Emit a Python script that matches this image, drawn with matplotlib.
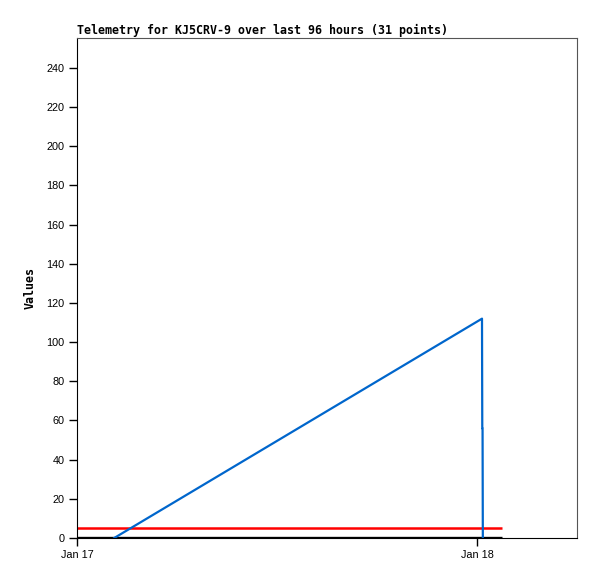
import datetime as dt
import matplotlib
matplotlib.use("Agg")
import matplotlib.pyplot as plt
import matplotlib.dates as mdates

# counter series (blue)
blue_times = [dt.datetime(2024, 1, 17, 2, 14), dt.datetime(2024, 1, 18, 0, 18),
              dt.datetime(2024, 1, 18, 0, 19), dt.datetime(2024, 1, 18, 0, 20),
              dt.datetime(2024, 1, 18, 0, 21)]
blue_values = [0, 112, 56, 56, 0]

# flat series
flat_times = [dt.datetime(2024, 1, 17, 0, 0), dt.datetime(2024, 1, 18, 1, 30)]
red_values = [5, 5]
black_values = [0, 0]

x_start = dt.datetime(2024, 1, 17, 0, 0)
x_end = dt.datetime(2024, 1, 18, 6, 0)
y_ticks = list(range(0, 241, 20))

fig = plt.figure(figsize=(5.97, 5.79), dpi=100)
ax = fig.add_axes([77 / 597, 41 / 579, 500 / 597, 500 / 579])

ax.plot(flat_times, red_values, color="#ff0000", lw=1.8, solid_capstyle="butt")
ax.plot(flat_times, black_values, color="#000000", lw=2.4, solid_capstyle="butt")
ax.plot(blue_times, blue_values, color="#0066cc", lw=1.6)

ax.set_xlim(x_start, x_end)
ax.set_ylim(0, 255.3)
ax.set_yticks(y_ticks)
ax.xaxis.set_major_locator(mdates.DayLocator())
ax.xaxis.set_major_formatter(mdates.DateFormatter("%b %d"))

for lab in ax.get_xticklabels() + ax.get_yticklabels():
    lab.set_fontfamily("Liberation Sans")
    lab.set_fontsize(7.8)
ax.tick_params(direction="out", length=6, width=1, colors="black", pad=3)

ax.spines["top"].set_color("#555555")
ax.spines["right"].set_color("#555555")
ax.spines["left"].set_color("black")
ax.spines["bottom"].set_color("black")

ax.set_title("Telemetry for KJ5CRV-9 over last 96 hours (31 points)",
             loc="left", family="DejaVu Sans Mono", weight="bold",
             fontsize=8.35, pad=3)
ax.set_ylabel("Values", family="DejaVu Sans Mono", weight="bold", fontsize=8.35,
              labelpad=7)

fig.savefig("out.png", dpi=100)
